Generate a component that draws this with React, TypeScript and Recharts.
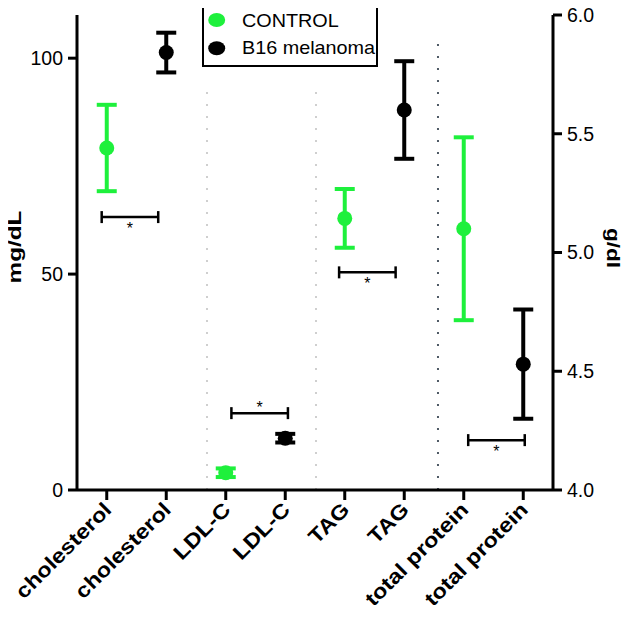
import React from "react";
import {
  ComposedChart,
  Scatter,
  XAxis,
  YAxis,
  ErrorBar,
  ReferenceLine,
  Legend,
} from "recharts";

// ---------- data ----------
const categories = [
  "cholesterol",
  "cholesterol",
  "LDL-C",
  "LDL-C",
  "TAG",
  "TAG",
  "total protein",
  "total protein",
];
const groupNames = ["CONTROL", "B16 melanoma"];
const groupColors = ["#1ef03c", "#000000"];

// left axis (mg/dL): cholesterol, LDL-C, TAG
const controlLeftPos = [1, 3, 5];
const controlLeftMean = [79.2, 4.0, 62.9];
const controlLeftErr = [10.0, 1.0, 6.8];
const b16LeftPos = [2, 4, 6];
const b16LeftMean = [101.3, 12.0, 88.0];
const b16LeftErr = [4.6, 1.0, 11.3];

// right axis (g/dl): total protein
const controlRightPos = [7];
const controlRightMean = [5.1];
const controlRightErr = [0.385];
const b16RightPos = [8];
const b16RightMean = [4.53];
const b16RightErr = [0.23];

// significance brackets
const sigLeftCenter = [1.39, 3.57, 5.38];
const sigLeftLevel = [63.2, 17.8, 50.4];
const sigLeftLabel = ["*", "*", "*"];
const sigRightCenter = [7.55];
const sigRightLevel = [4.21];
const sigRightLabel = ["*"];
const sigHalfSpan = 0.475;

// dotted separators between groups
const separatorPos = [2.685, 4.517, 6.567];
const separatorTop = [92.6, 92.6, 105.3];

const xTicks = [1, 2, 3, 4, 5, 6, 7, 8];
const leftTicks = [0, 50, 100];
const rightTicks = [4.0, 4.5, 5.0, 5.5, 6.0];

// ---------- build series ----------
const mk = (pos: number[], mean: number[], err: number[]) =>
  pos.map((x, i) => ({ x, y: mean[i], err: err[i] }));
const controlLeft = mk(controlLeftPos, controlLeftMean, controlLeftErr);
const b16Left = mk(b16LeftPos, b16LeftMean, b16LeftErr);
const controlRight = mk(controlRightPos, controlRightMean, controlRightErr);
const b16Right = mk(b16RightPos, b16RightMean, b16RightErr);
const sigLeft = sigLeftCenter.map((x, i) => ({
  x,
  y: sigLeftLevel[i],
  xerr: sigHalfSpan,
  label: sigLeftLabel[i],
  cat: categories[Math.round(x) - 1],
}));
const sigRight = sigRightCenter.map((x, i) => ({
  x,
  y: sigRightLevel[i],
  xerr: sigHalfSpan,
  label: sigRightLabel[i],
  cat: categories[Math.round(x) - 1],
}));

// ---------- styling ----------
const FONT = "'Liberation Sans', Arial, Helvetica, sans-serif";
const ASTERISK_ABOVE = new Set(["LDL-C"]);

const dot = (color: string) => (props: any) => {
  const { cx, cy } = props;
  if (cx == null || cy == null) return <g />;
  return <circle cx={cx} cy={cy} r={7.5} fill={color} />;
};

const asterisk = (props: any) => {
  const { cx, cy, payload } = props;
  if (cx == null || cy == null) return <g />;
  const above = ASTERISK_ABOVE.has(payload?.cat);
  return (
    <text
      x={cx}
      y={above ? cy + 0 : cy + 17}
      textAnchor="middle"
      fontSize={16}
      fontFamily={FONT}
      fill="#000"
    >
      {payload?.label}
    </text>
  );
};

const XTick = (props: any) => {
  const { x, y, payload } = props;
  const label = categories[Math.round(payload.value) - 1];
  return (
    <g transform={`translate(${x + 6},${y + 11})`}>
      <text
        transform="rotate(-45) scale(1.15,1)"
        textAnchor="end"
        fontSize={20.5}
        fontWeight="bold"
        fontFamily={FONT}
        fill="#000"
      >
        {label}
      </text>
    </g>
  );
};

const LeftTitle = () => (
  <text
    transform="translate(21,247) rotate(-90) scale(1.35,1)"
    textAnchor="middle"
    fontSize={18}
    fontWeight="bold"
    fontFamily={FONT}
    fill="#000"
  >
    mg/dL
  </text>
);

const RightTitle = () => (
  <text
    transform="translate(607,248) rotate(90) scale(1.25,1)"
    textAnchor="middle"
    fontSize={18}
    fontWeight="bold"
    fontFamily={FONT}
    fill="#000"
  >
    g/dl
  </text>
);

const LegendBox = () => (
  <svg width={176} height={64} style={{ display: "block" }}>
    <rect x={1} y={1} width={174} height={62} fill="#fff" stroke="#000" strokeWidth={2} />
    {groupNames.map((name, i) => (
      <g key={name}>
        <ellipse cx={14.7} cy={17 + i * 28.3} rx={8.5} ry={7} fill={groupColors[i]} />
        <text
          transform={`translate(40,${24 + i * 26.6}) scale(1.1,1)`}
          fontSize={18}
          fontFamily={FONT}
          fill="#000"
        >
          {name}
        </text>
      </g>
    ))}
  </svg>
);

const tickStyle = { fontSize: 19.5, fill: "#000", fontFamily: FONT };

export default function App() {
  return (
    <div style={{ margin: -8, width: 629, height: 618 }}>
      <ComposedChart
        width={629}
        height={618}
        margin={{ top: 15, right: 0, bottom: 0, left: 0 }}
        style={{ fontFamily: FONT }}
      >
        <XAxis
          type="number"
          dataKey="x"
          domain={[0.5, 8.5]}
          ticks={xTicks}
          interval={0}
          allowDataOverflow
          height={128}
          tick={<XTick />}
          tickSize={10}
          tickMargin={0}
          axisLine={{ stroke: "#000", strokeWidth: 3 }}
          tickLine={{ stroke: "#000", strokeWidth: 3 }}
        />
        <YAxis
          yAxisId="left"
          dataKey="y"
          type="number"
          domain={[0, 110]}
          ticks={leftTicks}
          allowDataOverflow
          width={77}
          tick={tickStyle}
          tickSize={9}
          tickMargin={5}
          axisLine={{ stroke: "#000", strokeWidth: 3 }}
          tickLine={{ stroke: "#000", strokeWidth: 3 }}
          label={{ content: () => <LeftTitle /> }}
        />
        <YAxis
          yAxisId="right"
          orientation="right"
          dataKey="y"
          type="number"
          domain={[4, 6]}
          ticks={rightTicks}
          allowDataOverflow
          width={76}
          tick={tickStyle}
          tickFormatter={(v: number) => v.toFixed(1)}
          tickSize={9}
          tickMargin={5}
          axisLine={{ stroke: "#000", strokeWidth: 3 }}
          tickLine={{ stroke: "#000", strokeWidth: 3 }}
          label={{ content: () => <RightTitle /> }}
        />

        {separatorPos.map((x, i) => (
          <ReferenceLine
            key={`sep-${i}`}
            yAxisId="left"
            segment={[
              { x, y: 0 },
              { x, y: separatorTop[i] },
            ]}
            stroke={i === 2 ? "#4f5a66" : "#cfcfcf"}
            strokeWidth={2}
            strokeDasharray="2 10"
            ifOverflow="visible"
          />
        ))}

        <Scatter
          name="sig-left"
          yAxisId="left"
          data={sigLeft}
          shape={asterisk}
          isAnimationActive={false}
          legendType="none"
        >
          <ErrorBar dataKey="xerr" direction="x" width={6} stroke="#000" strokeWidth={2.5} isAnimationActive={false} />
        </Scatter>
        <Scatter
          name="sig-right"
          yAxisId="right"
          data={sigRight}
          shape={asterisk}
          isAnimationActive={false}
          legendType="none"
        >
          <ErrorBar dataKey="xerr" direction="x" width={6} stroke="#000" strokeWidth={2.5} isAnimationActive={false} />
        </Scatter>

        <Scatter
          name={groupNames[0]}
          yAxisId="left"
          data={controlLeft}
          fill={groupColors[0]}
          shape={dot(groupColors[0])}
          isAnimationActive={false}
        >
          <ErrorBar dataKey="err" direction="y" width={10} stroke={groupColors[0]} strokeWidth={4} isAnimationActive={false} />
        </Scatter>
        <Scatter
          name={groupNames[1]}
          yAxisId="left"
          data={b16Left}
          fill={groupColors[1]}
          shape={dot(groupColors[1])}
          isAnimationActive={false}
        >
          <ErrorBar dataKey="err" direction="y" width={10} stroke={groupColors[1]} strokeWidth={4} isAnimationActive={false} />
        </Scatter>
        <Scatter
          name={`${groupNames[0]} (protein)`}
          yAxisId="right"
          data={controlRight}
          fill={groupColors[0]}
          shape={dot(groupColors[0])}
          isAnimationActive={false}
        >
          <ErrorBar dataKey="err" direction="y" width={10} stroke={groupColors[0]} strokeWidth={4} isAnimationActive={false} />
        </Scatter>
        <Scatter
          name={`${groupNames[1]} (protein)`}
          yAxisId="right"
          data={b16Right}
          fill={groupColors[1]}
          shape={dot(groupColors[1])}
          isAnimationActive={false}
        >
          <ErrorBar dataKey="err" direction="y" width={10} stroke={groupColors[1]} strokeWidth={4} isAnimationActive={false} />
        </Scatter>

        <Legend
          layout="vertical"
          align="center"
          verticalAlign="middle"
          content={() => <LegendBox />}
          wrapperStyle={{ position: "absolute", left: 202, top: 3, width: 176, height: 64 }}
        />
      </ComposedChart>
    </div>
  );
}
